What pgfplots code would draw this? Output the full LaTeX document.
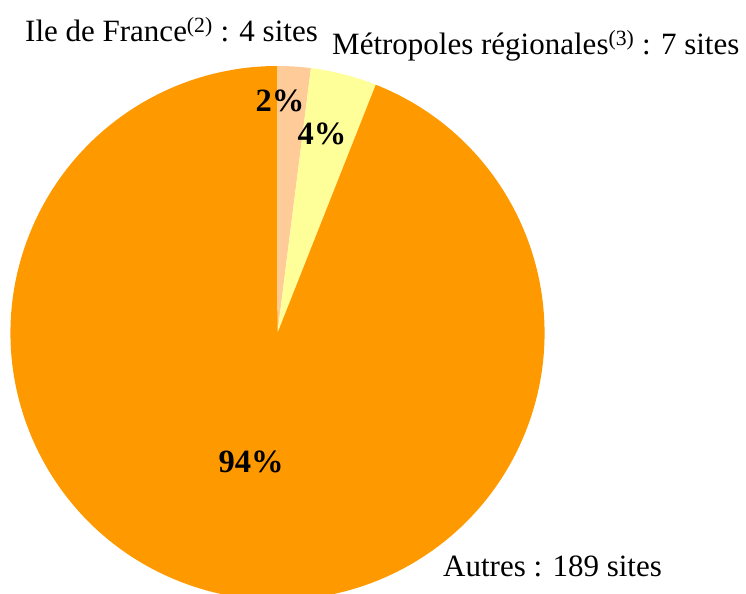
\documentclass[border=0pt]{standalone}
\usepackage{pgfplots}
\usepackage{pgfplotstable}
\pgfplotsset{compat=1.18}
\usepackage{fontspec}
\setmainfont{Liberation Serif}
\definecolor{cIDF}{HTML}{FFCC99}
\definecolor{cMetro}{HTML}{FFFF99}
\definecolor{cAutres}{HTML}{FF9900}
\pgfplotstableread{
label value
IDF 2
Metro 4
Autres 94
}\piedata
\begin{document}
\begin{tikzpicture}
\pgfplotstablegetelem{0}{value}\of\piedata \let\va\pgfplotsretval
\pgfplotstablegetelem{1}{value}\of\piedata \let\vb\pgfplotsretval
\pgfplotstablegetelem{2}{value}\of\piedata \let\vc\pgfplotsretval
\pgfmathsetmacro{\tot}{\va+\vb+\vc}
\pgfmathsetmacro{\aA}{90}
\pgfmathsetmacro{\aB}{90-\va/\tot*360}
\pgfmathsetmacro{\aC}{\aB-\vb/\tot*360}
\pgfmathsetmacro{\aD}{\aC-\vc/\tot*360}
\def\R{267bp}
\begin{axis}[
  x=1bp, y=1bp,
  xmin=0, xmax=746, ymin=0, ymax=594,
  hide axis, clip mode=global,
  scale only axis,
]
\path (rel axis cs:0,0) rectangle (rel axis cs:1,1);
\fill[cIDF] (axis cs:277.5,261) -- ++(\aA:\R) arc[start angle=\aA, end angle=\aB, radius=\R] -- cycle;
\fill[cMetro] (axis cs:277.5,261) -- ++(\aB:\R) arc[start angle=\aB, end angle=\aC, radius=\R] -- cycle;
\fill[cAutres] (axis cs:277.5,261) -- ++(\aC:\R) arc[start angle=\aC, end angle=\aD, radius=\R] -- cycle;
\addplot[draw=none, mark=none] coordinates {(277.5,261)};
\fontsize{31bp}{37bp}\selectfont
\node[anchor=base west, inner sep=0pt] at (axis cs:25,552) {Ile de France\textsuperscript{(2)} : 4 sites};
\node[anchor=base west, inner sep=0pt] at (axis cs:332,539) {Métropoles régionales\textsuperscript{(3)} : 7 sites};
\node[anchor=base west, inner sep=0pt] at (axis cs:443,17) {Autres : 189 sites};
\node[anchor=base, inner sep=0pt, font=\fontsize{32.5bp}{38bp}\selectfont\bfseries] at (axis cs:280,482) {2\%};
\node[anchor=base, inner sep=0pt, font=\fontsize{32.5bp}{38bp}\selectfont\bfseries] at (axis cs:322,449) {4\%};
\node[anchor=base, inner sep=0pt, font=\fontsize{32.5bp}{38bp}\selectfont\bfseries] at (axis cs:251,121) {94\%};
\end{axis}
\end{tikzpicture}
\end{document}
